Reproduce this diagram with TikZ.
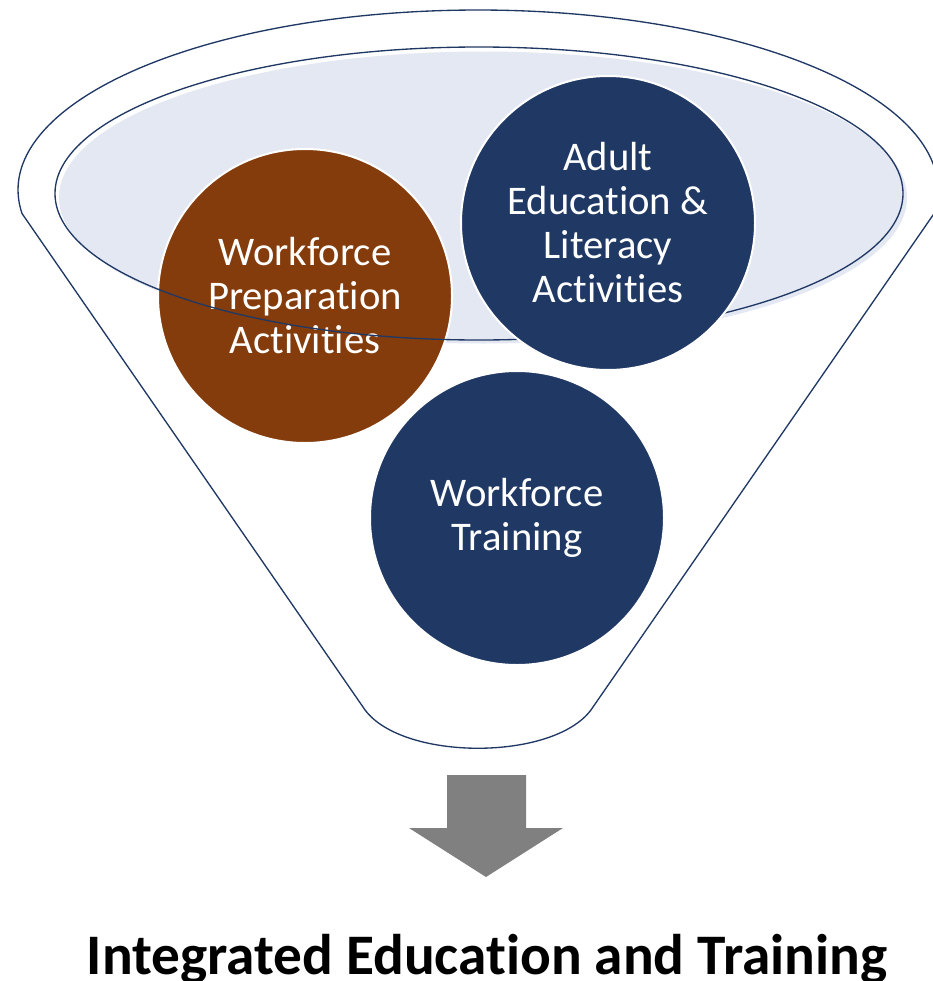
\documentclass[tikz,border=0pt]{standalone}
\usepackage{fontspec}
\setmainfont{Carlito}[Ligatures=NoCommon]
\definecolor{navy}{RGB}{32,56,100}
\definecolor{rust}{RGB}{132,60,12}
\definecolor{pale}{RGB}{228,232,243}
\definecolor{arrowgray}{RGB}{128,128,128}
\tikzset{every picture/.style={line width=0.75pt}}
\tikzset{
  funnelline/.style={draw=navy, line width=1pt},
  bubble/.style={circle, draw=white, line width=1.5pt, minimum size=220.5pt, inner sep=0pt,
    align=center, text=white, font=\fontsize{30.5}{33}\selectfont},
}

\begin{document}
\begin{tikzpicture}[x=0.75pt,y=0.75pt,yscale=-1,xscale=1]
\useasboundingbox (0,0) rectangle (932,981);

%Shape: Funnel body
\draw [funnelline, fill=white] (363,707) -- (22,213.5) arc [start angle=172.5, end angle=367.5, x radius=460, y radius=180] -- (593,707) .. controls (558,762) and (398,762) .. (363,707) -- cycle ;
%Shape: Ellipse fill
\fill [pale] (483,197.5) ellipse [x radius=424, y radius=146] ;

%Shape: Circle
\node [bubble, fill=rust] (prep) at (305,296) {Workforce\\Preparation\\Activities};
%Shape: Ellipse outline
\draw [funnelline] (479,193.5) ellipse [x radius=424, y radius=146.5] ;
%Shape: Circle
\node [bubble, fill=navy] (adult) at (608,223) {Adult\\Education \&\\Literacy\\Activities};
%Shape: Circle
\node [bubble, fill=navy] (train) at (517,518) {Workforce\\Training};

%Shape: Down Arrow
\fill [arrowgray] (447,775) -- (526,775) -- (526,828) -- (563,828) -- (486,877) -- (409,828) -- (447,828) -- cycle ;

% Text Node
\node [anchor=base, inner sep=0.75pt, font=\bfseries\fontsize{43}{50}\selectfont] (iet) at (487,974) {Integrated Education and Training};

\end{tikzpicture}
\end{document}
